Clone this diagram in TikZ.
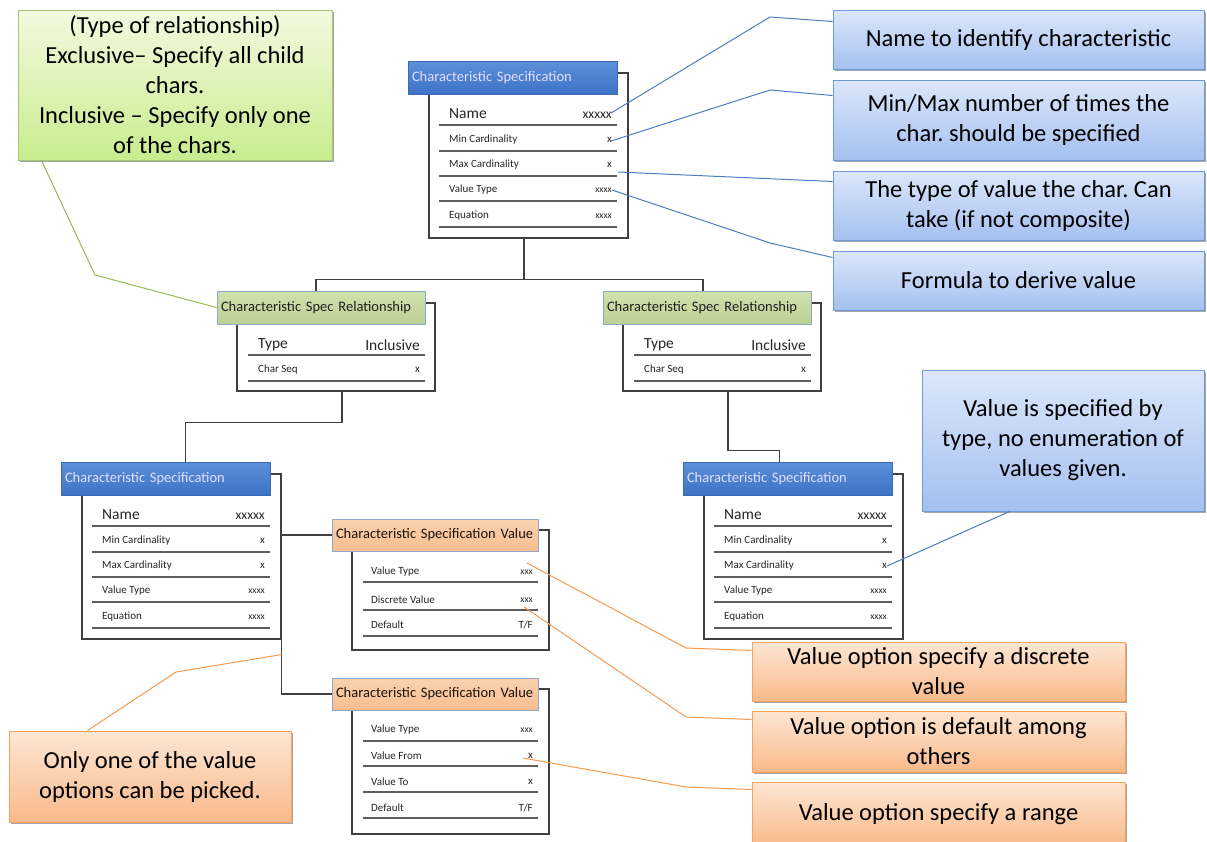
\documentclass[tikz,border=0pt]{standalone}
\usepackage{fontspec}
\setmainfont{Carlito}
\usetikzlibrary{shadows,calc}
\frenchspacing
\definecolor{cbtop}{HTML}{DCE7FA}
\definecolor{cbbot}{HTML}{A4C0F0}
\definecolor{cbborder}{HTML}{6A9AD8}
\definecolor{cgtop}{HTML}{F2FADF}
\definecolor{cgbot}{HTML}{C9EC8E}
\definecolor{cgborder}{HTML}{A6C472}
\definecolor{cotop}{HTML}{FDE6D3}
\definecolor{cobot}{HTML}{F9BA8B}
\definecolor{coborder}{HTML}{F7A35C}
\definecolor{leadblue}{HTML}{4A7EC0}
\definecolor{leadgreen}{HTML}{98B954}
\definecolor{leadorange}{HTML}{F59A4E}
\definecolor{bhtop}{HTML}{5C90DA}
\definecolor{bhbot}{HTML}{3E72C6}
\definecolor{bhborder}{HTML}{3C68B4}
\definecolor{ghtop}{HTML}{D0E1AE}
\definecolor{ghbot}{HTML}{BCD093}
\definecolor{ohtop}{HTML}{FBD2AF}
\definecolor{ohbot}{HTML}{F7BD90}
\definecolor{hborder}{HTML}{8FA8C8}
\definecolor{conncol}{HTML}{404040}
\definecolor{rowcol}{HTML}{5E5E5E}
\definecolor{txt}{HTML}{262626}

\newcommand\speccard[3]{%
\begin{scope}[shift={(#2,#3)}, name prefix=#1-]
 \node[cardbody, minimum width=199pt, minimum height=165pt] (body) at (120.5,94.5) {};
 \node[bluehead, minimum width=209pt, minimum height=33pt] (head) at (104.5,16.5) {Characteristic Specification};
 \node[bigrow, anchor=west] (l1) at (41,53) {Name};
 \node[bigval, anchor=east] (v1) at (204,54) {xxxxx};
 \node[smallrow, anchor=west] (l2) at (41,79) {Min Cardinality};
 \node[smallrow, anchor=east] (v2) at (204,79) {x};
 \node[smallrow, anchor=west] (l3) at (41,104) {Max Cardinality};
 \node[smallrow, anchor=east] (v3) at (204,104) {x};
 \node[smallrow, anchor=west] (l4) at (41,129) {Value Type};
 \node[tinyval, anchor=east] (v4) at (204,129) {xxxx};
 \node[smallrow, anchor=west] (l5) at (41,155) {Equation};
 \node[tinyval, anchor=east] (v5) at (204,155) {xxxx};
 \foreach \yy in {64,90,115,140,166} \draw[rowline] (31,\yy) -- (209,\yy);
\end{scope}}

\newcommand\relcard[3]{%
\begin{scope}[shift={(#2,#3)}, name prefix=#1-]
 \node[cardbody, minimum width=198pt, minimum height=88pt] (body) at (119,56) {};
 \node[greenhead, minimum width=208pt, minimum height=33pt] (head) at (104,16.5) {Characteristic Spec Relationship};
 \node[bigrow, anchor=west] (l1) at (41,54) {Type};
 \node[bigrow, anchor=east] (v1) at (203,54) {Inclusive};
 \node[smallrow, anchor=west] (l2) at (41,79) {Char Seq};
 \node[smallrow, anchor=east] (v2) at (203,79) {x};
 \foreach \yy in {64,90} \draw[rowline] (31,\yy) -- (208,\yy);
\end{scope}}

\begin{document}
\begin{tikzpicture}[x=1pt,y=-1pt,
  cardbody/.style={draw=conncol, line width=1.1pt, fill=white, inner sep=0},
  hdr/.style={line width=0.8pt, inner sep=0, inner xsep=4pt, align=left, font=\fontsize{14.5}{16}\selectfont},
  bluehead/.style={hdr, draw=bhborder, top color=bhtop, bottom color=bhbot, text=white!88!blue, text width=201pt},
  greenhead/.style={hdr, draw=hborder, top color=ghtop, bottom color=ghbot, text=black!88, text width=200pt},
  orangehead/.style={hdr, draw=hborder, top color=ohtop, bottom color=ohbot, text=black!85!brown, text width=198pt},
  bigrow/.style={inner sep=0, text=txt, font=\fontsize{15.5}{17}\selectfont},
  bigval/.style={inner sep=0, text=txt, font=\fontsize{13.5}{15}\selectfont},
  smallrow/.style={inner sep=0, text=txt, font=\fontsize{11}{12}\selectfont},
  tinyval/.style={inner sep=0, text=txt, font=\fontsize{9.5}{11}\selectfont},
  rowline/.style={draw=rowcol, line width=1.7pt},
  conn/.style={draw=conncol, line width=1.3pt},
  cbox/.style={draw=#1border, line width=1pt, top color=#1top, bottom color=#1bot,
     drop shadow={shadow xshift=1.8pt, shadow yshift=-1.8pt, opacity=0.35, fill=black},
     inner sep=0, align=center, text=black, font=\fontsize{24.5}{30}\selectfont},
  lead/.style={draw=#1, line width=1pt}
]
\clip (0,0) rectangle (1207,841);
\fill[white] (0,0) rectangle (1207,841);

% ---------- callout boxes ----------
\node[cbox=cb, minimum width=371pt, minimum height=59pt] (cb1) at (1018.5,39.5) {Name to identify characteristic};
\node[cbox=cb, minimum width=371pt, minimum height=80pt] (cb2) at (1018.5,120) {Min/Max number of times the\\char. should be specified};
\node[cbox=cb, minimum width=371pt, minimum height=69pt] (cb3) at (1018.5,205.5) {The type of value the char. Can\\take (if not composite)};
\node[cbox=cb, minimum width=371pt, minimum height=59pt] (cb4) at (1018.5,280.5) {Formula to derive value};
\node[cbox=cb, minimum width=282pt, minimum height=141pt] (cb5) at (1063,440.5) {Value is specified by\\type, no enumeration of\\values given.};
\node[cbox=cg, minimum width=314pt, minimum height=150pt] (cg) at (175,85) {(Type of relationship)\\Exclusive– Specify all child\\chars.\\Inclusive – Specify only one\\of the chars.};
\node[cbox=co, minimum width=282pt, minimum height=91pt] (co1) at (150,776.5) {Only one of the value\\options can be picked.};
\node[cbox=co, minimum width=373pt, minimum height=59pt] (ca) at (938.5,671.5) {Value option specify a discrete\\value};
\node[cbox=co, minimum width=373pt, minimum height=61pt] (cbb) at (938.5,741.5) {Value option is default among\\others};
\node[cbox=co, minimum width=373pt, minimum height=64pt] (cc) at (938.5,814) {Value option specify a range};

% ---------- cards ----------
\speccard{T}{408}{61}
\relcard{GL}{217}{291}
\relcard{GR}{603}{291}
\speccard{L}{61}{462}
\speccard{R}{683}{462}

% value card 1
\begin{scope}[shift={(332,519)}, name prefix=V1-]
 \node[cardbody, minimum width=197pt, minimum height=120pt] (body) at (118.5,71) {};
 \node[orangehead, minimum width=206pt, minimum height=32pt] (head) at (103,16) {Characteristic Specification Value};
 \node[smallrow, anchor=west] (l1) at (39,53) {Value Type};
 \node[tinyval, anchor=east] (v1) at (201,53) {xxx};
 \node[smallrow, anchor=west] (l2) at (39,81) {Discrete Value};
 \node[tinyval, anchor=east] (v2) at (201,81) {xxx};
 \node[smallrow, anchor=west] (l3) at (39,106) {Default};
 \node[smallrow, anchor=east] (v3) at (201,106) {T/F};
 \foreach \yy in {63,91,117} \draw[rowline] (31,\yy) -- (206,\yy);
\end{scope}

% value card 2
\begin{scope}[shift={(332,678)}, name prefix=V2-]
 \node[cardbody, minimum width=197pt, minimum height=145pt] (body) at (118.5,83.5) {};
 \node[orangehead, minimum width=206pt, minimum height=32pt] (head) at (103,16) {Characteristic Specification Value};
 \node[smallrow, anchor=west] (l1) at (39,52) {Value Type};
 \node[tinyval, anchor=east] (v1) at (201,52) {xxx};
 \node[smallrow, anchor=west] (l2) at (39,78) {Value From};
 \node[smallrow, anchor=east] (v2) at (201,78) {x};
 \node[smallrow, anchor=west] (l3) at (39,104) {Value To};
 \node[smallrow, anchor=east] (v3) at (201,104) {x};
 \node[smallrow, anchor=west] (l4) at (39,130) {Default};
 \node[smallrow, anchor=east] (v4) at (201,130) {T/F};
 \foreach \yy in {63,88,114,140} \draw[rowline] (31,\yy) -- (206,\yy);
\end{scope}

% ---------- connectors ----------
\draw[conn] ([xshift=-4.5pt]T-body.south) -- ++(0,41) coordinate (tj) -| ([xshift=-5pt]GL-head.north);
\draw[conn] (tj) -| ([xshift=-4pt]GR-head.north);
\draw[conn] ([xshift=6pt]GL-body.south) -- ++(0,31) -| ([xshift=20pt]L-head.north);
\draw[conn] ([xshift=6pt]GR-body.south) -- ++(0,59) -| ([xshift=-8pt]R-head.north);
\draw[conn] (L-body.east |- V1-head.west) -- (V1-head.west);
\draw[conn] (L-body.south east) |- (V2-head.west);

% ---------- leader lines ----------
\draw[lead=leadblue] ([shift={(-1,-2)}]T-v1.east) -- (770,17) -- ($(cb1.north west)+(0,12)$);
\draw[lead=leadblue] ([shift={(-1,1)}]T-v2.east) -- (770,90) -- ($(cb2.north west)+(0,16)$);
\draw[lead=leadblue] ([shift={(6,7)}]T-v3.east) -- ($(cb3.north west)+(0,11)$);
\draw[lead=leadblue] (T-v4.east) -- (770,243) -- ($(cb4.north west)+(0,7)$);
\draw[lead=leadblue] (R-v3.east) -- ($(cb5.south west)+(88,0)$);
\draw[lead=leadgreen] ($(cg.south west)+(24,0)$) -- (95,275) -- (GL-head.west);
\draw[lead=leadorange] ($(co1.north west)+(79,0)$) -- (176,672) -- ($(L-body.south east)+(0,15)$);
\draw[lead=leadorange] ([shift={(-6,-9)}]V1-v1.east) -- (686,648) -- ($(ca.north west)+(0,9)$);
\draw[lead=leadorange] ([shift={(-9,7)}]V1-v2.east) -- (686,717) -- ($(cbb.north west)+(0,9)$);
\draw[lead=leadorange] ([shift={(-5,2)}]V2-v2.west) -- (686,787) -- ($(cc.north west)+(0,8)$);
\end{tikzpicture}
\end{document}
